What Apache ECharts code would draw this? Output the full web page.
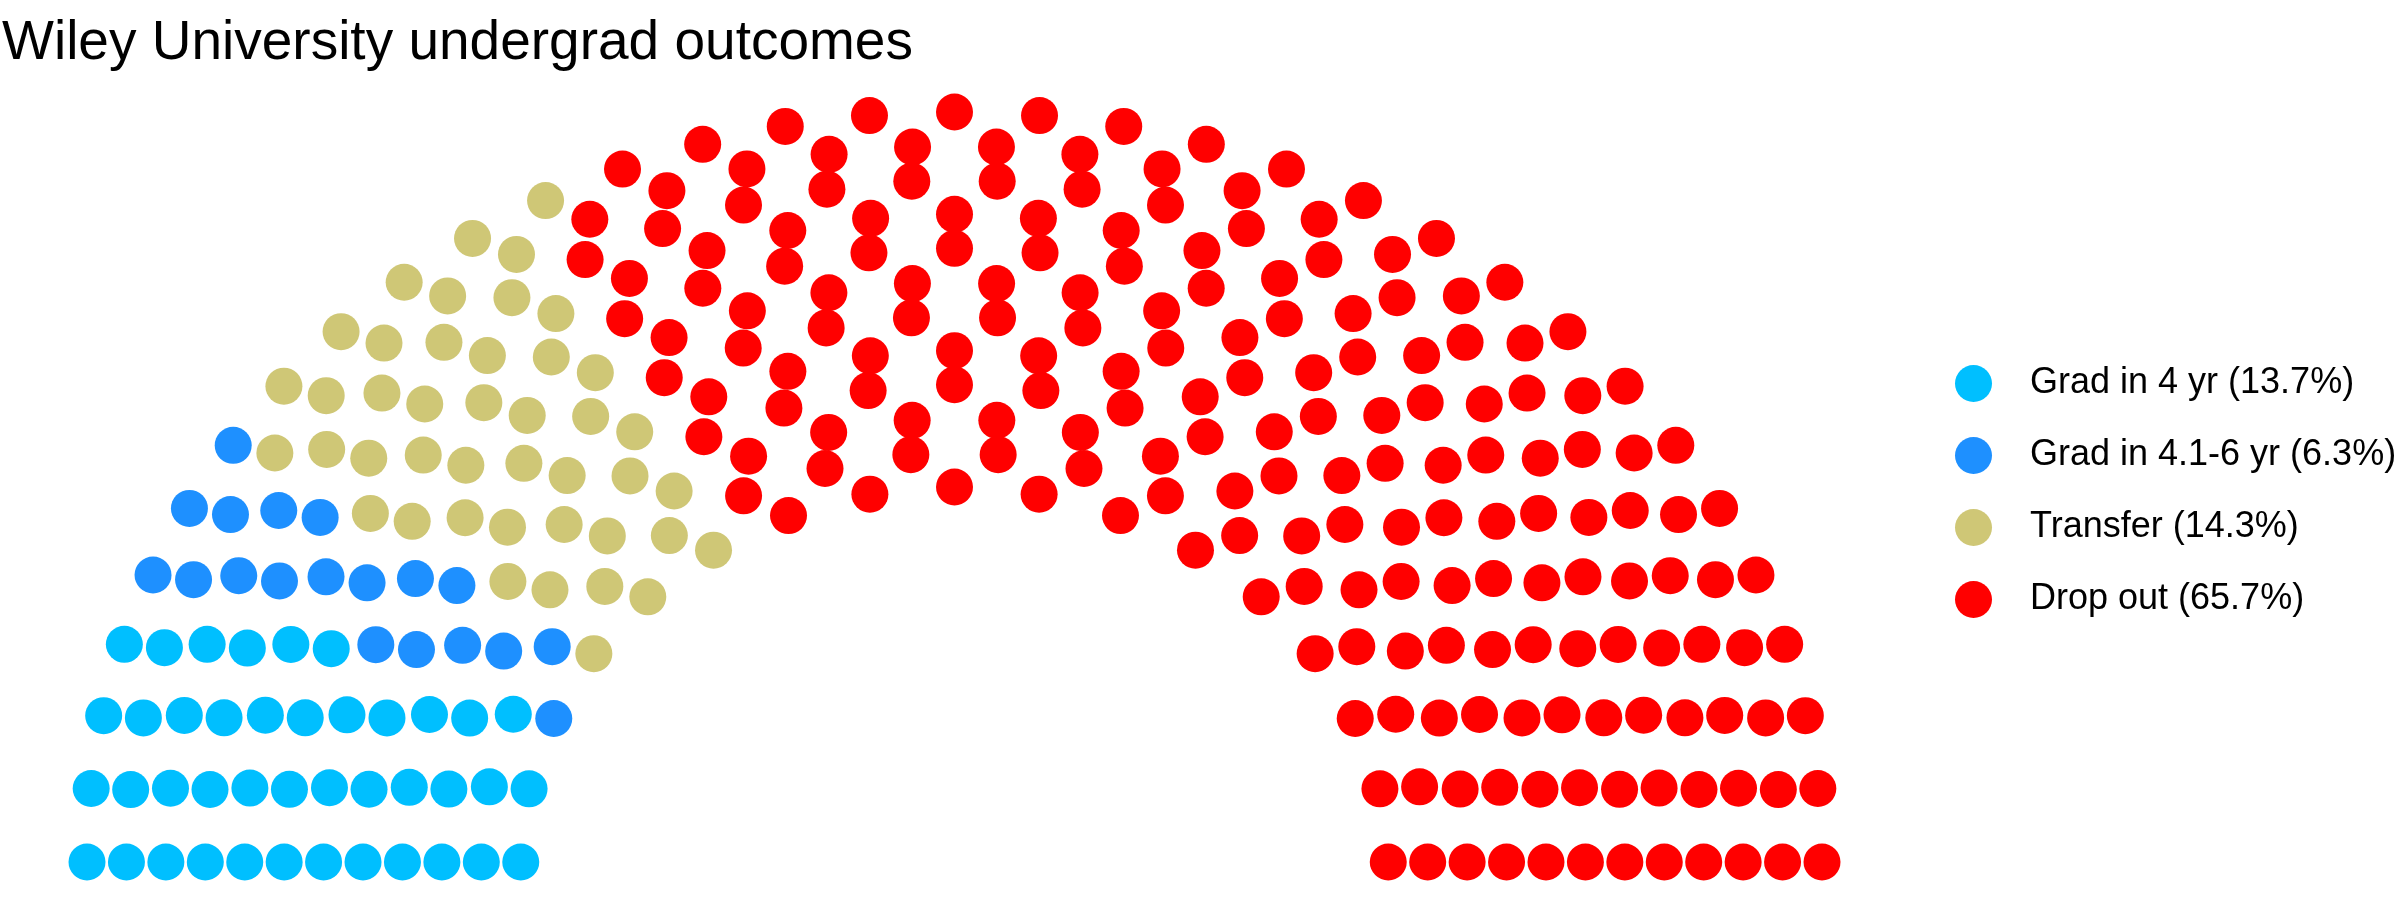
<!DOCTYPE html>
<html>
<head>
<meta charset="utf-8">
<script src="https://cdn.jsdelivr.net/npm/echarts@6/dist/echarts.min.js"></script>
<style>
  html, body { margin: 0; padding: 0; background: #ffffff; }
  #chart { width: 2400px; height: 900px; }
</style>
</head>
<body>
<div id="chart"></div>
<script>
// ---- data ----
const categories = ['Grad in 4 yr (13.7%)', 'Grad in 4.1-6 yr (6.3%)', 'Transfer (14.3%)', 'Drop out (65.7%)'];
const seats = [41, 19, 43, 197];
const colors = ['#00BFFF', '#1E90FF', '#CFC776', '#FF0000'];
const parlRows = 12;
const radiusLimits = [1, 2];

// ---- parliament (semicircle) layout, as in ggparliament ----
function calcCoordinates(N, M, limits) {
  const radii = [];
  for (let i = 0; i < M; i++) radii.push(limits[0] + (limits[1] - limits[0]) * i / (M - 1));
  const pts = [];
  let remaining = N;
  for (let i = 0; i < M; i++) {
    let s = 0;
    for (let j = i; j < M; j++) s += radii[j];
    const cnt = Math.round(remaining * radii[i] / s);
    for (let k = 0; k < cnt; k++) {
      const theta = cnt > 1 ? Math.PI * k / (cnt - 1) : 0;
      pts.push({ x: radii[i] * Math.cos(theta), y: radii[i] * Math.sin(theta), row: i, theta: theta });
    }
    remaining -= cnt;
  }
  pts.sort((a, b) => {
    if (Math.abs(a.theta - b.theta) > 1e-9) return b.theta - a.theta;
    return b.row - a.row;
  });
  return pts;
}

const total = seats.reduce((a, b) => a + b, 0);
const layout = calcCoordinates(total, parlRows, radiusLimits);
const seriesData = categories.map(() => []);
let idx = 0;
seats.forEach((n, p) => {
  for (let k = 0; k < n; k++) {
    const pt = layout[idx++];
    seriesData[p].push([pt.x, pt.y]);
  }
});

const FONT = '"Liberation Sans", Arial, Helvetica, sans-serif';
const chart = echarts.init(document.getElementById('chart'), null, { renderer: 'canvas' });
chart.setOption({
  backgroundColor: '#ffffff',
  animation: false,
  title: {
    text: 'Wiley University undergrad outcomes',
    left: 2,
    top: 16,
    padding: 0,
    textStyle: { fontFamily: FONT, fontSize: 55, fontWeight: 'normal', color: '#000000' }
  },
  legend: {
    orient: 'vertical',
    left: 1950,
    top: 360,
    itemWidth: 37,
    itemHeight: 37,
    itemGap: 35,
    icon: 'circle',
    data: categories,
    textStyle: { fontFamily: FONT, fontSize: 36, color: '#000000', padding: [0, 0, 0, 33] }
  },
  grid: { left: 87, right: 578, top: 112, bottom: 38, containLabel: false },
  xAxis: { type: 'value', min: -2, max: 2, show: false },
  yAxis: { type: 'value', min: 0, max: 2, show: false },
  series: categories.map((name, i) => ({
    name: name,
    type: 'scatter',
    symbol: 'circle',
    symbolSize: 37,
    itemStyle: { color: colors[i], opacity: 1 },
    emphasis: { disabled: true },
    data: seriesData[i]
  }))
});
</script>
</body>
</html>
